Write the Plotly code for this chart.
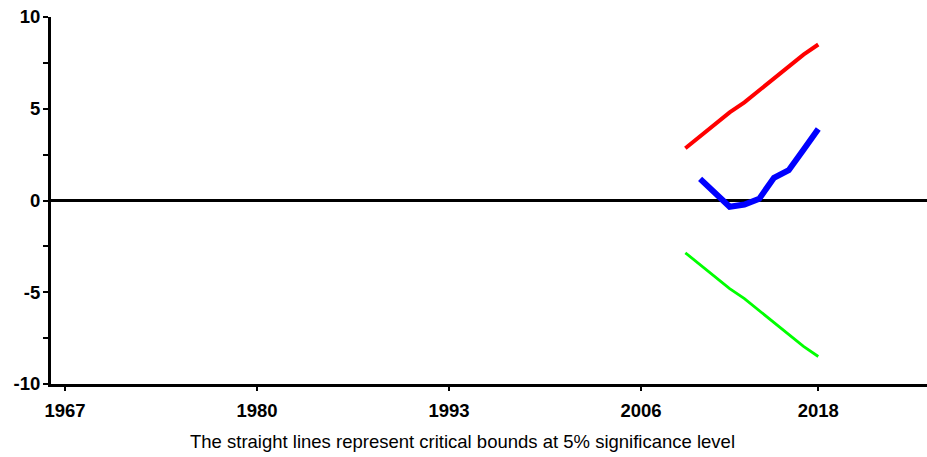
import plotly.graph_objects as go

years_bound = [2009, 2010, 2011, 2012, 2013, 2014, 2015, 2016, 2017, 2018]
upper_bound = [2.85, 3.5, 4.1, 4.8, 5.35, 6.0, 6.6, 7.25, 7.95, 8.5]
lower_bound = [-2.85, -3.5, -4.1, -4.8, -5.35, -6.0, -6.6, -7.25, -7.95, -8.5]

years_cusum = [2010, 2011, 2012, 2013, 2014, 2015, 2016, 2017, 2018]
cusum = [1.18, 0.42, -0.34, -0.22, 0.09, 1.24, 1.65, 2.77, 3.9]

x_ticks = [1967, 1980, 1993, 2006, 2018]
y_ticks = [-10, -5, 0, 5, 10]
caption = "The straight lines represent critical bounds at 5% significance level"

W, H = 927, 457
ML, MT = 51, 17
PH = 367
MB = H - MT - PH
PW = W - ML
PX_PER_YEAR = 14.77
x0 = 1967 - 14 / PX_PER_YEAR
x1 = x0 + PW / PX_PER_YEAR

fig = go.Figure()
fig.add_trace(go.Scatter(x=years_bound, y=upper_bound, mode="lines",
                         line=dict(color="#FF0000", width=4), showlegend=False))
fig.add_trace(go.Scatter(x=years_bound, y=lower_bound, mode="lines",
                         line=dict(color="#00FF00", width=2.8), showlegend=False))
fig.add_trace(go.Scatter(x=years_cusum, y=cusum, mode="lines",
                         line=dict(color="#0000FF", width=6), showlegend=False))

font_tick = dict(family="Liberation Sans, Arial, sans-serif", size=18.5, color="black")

fig.update_layout(
    width=W, height=H,
    margin=dict(l=ML, r=0, t=MT, b=MB, pad=0),
    paper_bgcolor="white", plot_bgcolor="white",
    xaxis=dict(
        range=[x0, x1], tickmode="array", tickvals=x_ticks,
        ticktext=[f"<b>{v}</b>" for v in x_ticks],
        showline=True, linecolor="black", linewidth=3,
        ticks="outside", ticklen=4, tickwidth=2, tickcolor="black",
        showgrid=False, zeroline=False, tickfont=font_tick,
        ticklabelstandoff=4,
    ),
    yaxis=dict(
        range=[-10, 10], tickmode="array", tickvals=y_ticks,
        ticktext=[f"<b>{v}</b>" for v in y_ticks],
        showline=True, linecolor="black", linewidth=3,
        ticks="outside", ticklen=5, tickwidth=2, tickcolor="black",
        minor=dict(tickmode="array", tickvals=[-7.5, -2.5, 2.5, 7.5],
                   ticks="outside", ticklen=5, tickwidth=2, tickcolor="black"),
        showgrid=False, zeroline=True, zerolinecolor="black", zerolinewidth=2.5,
        tickfont=font_tick, ticklabelstandoff=-1,
    ),
    annotations=[dict(text=caption,
                      x=(462 - ML) / PW, y=-(441 - 384) / PH,
                      xref="paper", yref="paper", xanchor="center", yanchor="middle",
                      showarrow=False,
                      font=dict(family="Liberation Sans, Arial, sans-serif",
                                size=18.5, color="black"))],
)

fig.write_html(
    "out.html",
    config={"displayModeBar": False},
    post_script="document.body.style.margin='0';document.body.style.overflow='hidden';",
)
